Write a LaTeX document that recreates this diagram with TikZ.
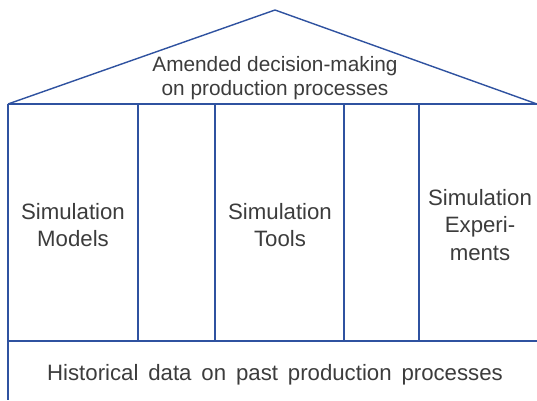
\documentclass[tikz,border=0pt]{standalone}
\usepackage{fontspec}
\setmainfont{Liberation Sans}
\newfontfamily\widefont[WordSpace=1.6]{Liberation Sans}
\usetikzlibrary{positioning}
\definecolor{houseblue}{RGB}{47,82,160}
\definecolor{textgray}{RGB}{60,60,60}
\tikzset{
  every path/.style={
    houseblue,
    line width=1pt
  },
  housetext/.style={
    text=textgray,
    font=\fontsize{15.8}{19.4}\selectfont,
    align=center,
    inner sep=0pt
  },
  rooftext/.style={
    housetext,
    font=\fontsize{14.8}{17}\selectfont
  }
}

\begin{document}
\begin{tikzpicture}[x=0.025cm, y=-0.025cm]
    \useasboundingbox (0,0) rectangle (537,400);

    % 点
    \coordinate (apex) at (275,10);
    \coordinate (eaveL) at (8,104);
    \coordinate (eaveR) at (537,104);
    \coordinate (floorL) at (8,341);
    \coordinate (floorR) at (537,341);
    \coordinate (groundL) at (8,400);

    % 屋根と床
    \draw (eaveL) -- (apex) -- (eaveR);
    \draw (eaveL) -- (eaveR);
    \draw (floorL) -- (floorR);
    \draw (eaveL) -- (groundL);

    % 柱
    \foreach \x/\name in {138/a, 215/b, 344/c, 419/d} {
        \coordinate (top\name) at (\x,104);
        \coordinate (bot\name) at (\x,341);
        \draw (top\name) -- (bot\name);
    }

    % テキスト
    \node[rooftext] (roof) at (275,78) {Amended decision-making\\on production processes};
    \node[housetext] (models) at (73,225) {Simulation\\Models};
    \node[housetext] (tools) at (280,225) {Simulation\\Tools};
    \node[housetext] (experiments) at (480,225) {Simulation\\Experi-\\ments};
    \node[housetext, font=\widefont\fontsize{15.8}{19.4}\selectfont] (history) at (275,375) {Historical data on past production processes};
\end{tikzpicture}
\end{document}
